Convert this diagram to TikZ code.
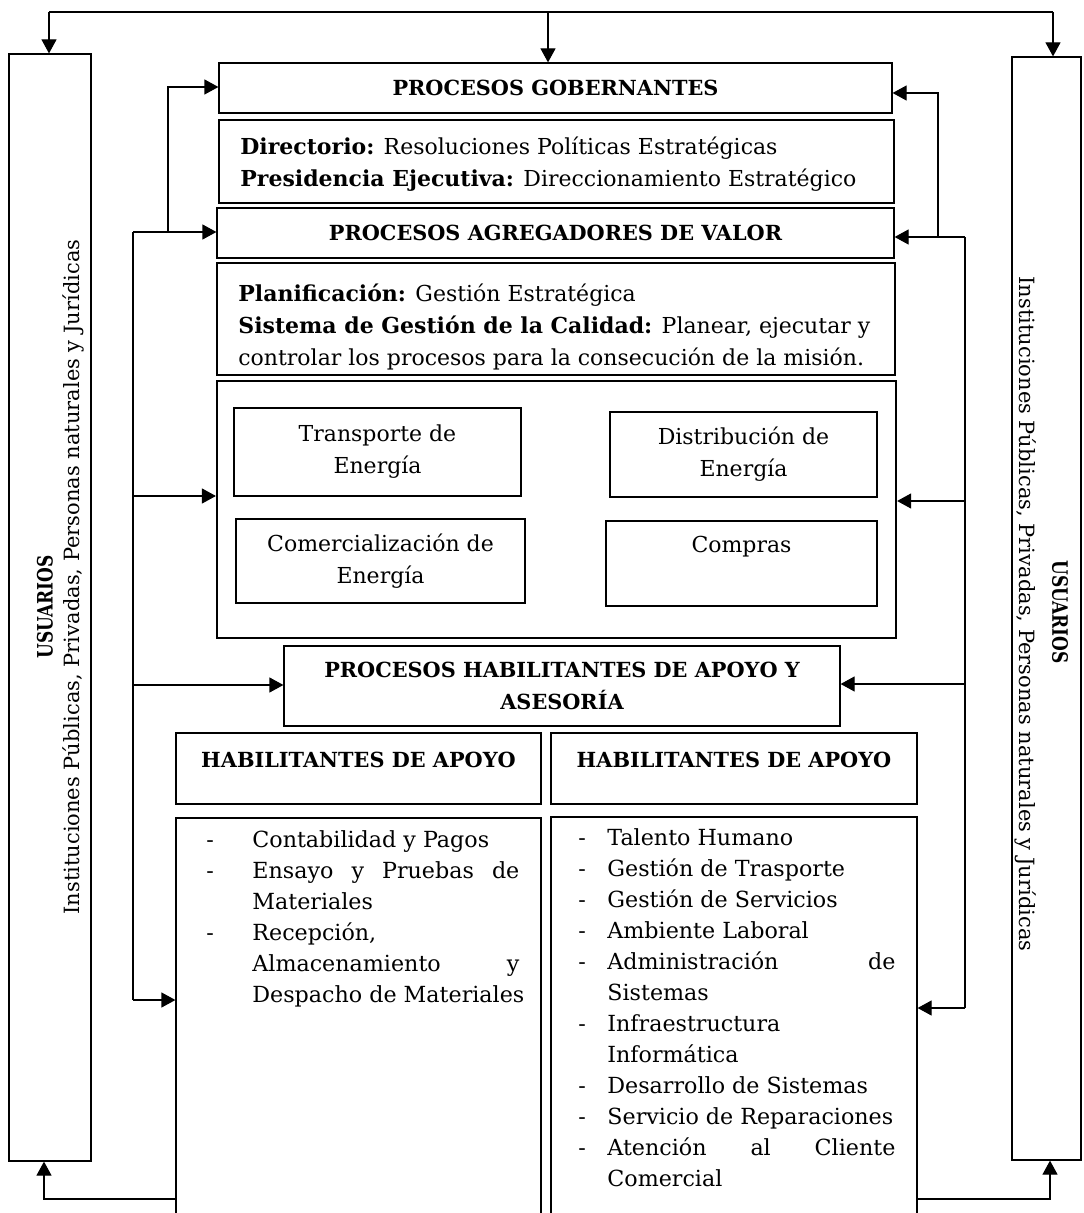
\documentclass[tikz,border=0pt]{standalone}
\usepackage{fontspec}
\usepackage{graphicx}
\setmainfont{DejaVu Serif}
\usetikzlibrary{arrows.meta,fit}
\newcommand{\fsz}{\fontsize{11}{16}\selectfont}
\newcommand{\fbz}{\fontsize{10.4}{16}\selectfont}
\newcommand{\flz}{\fontsize{11.1}{15.5}\selectfont}
\newcommand{\fsd}{\fontsize{10.5}{12}\selectfont}
\newcommand{\fud}{\fontsize{10.6}{12}\selectfont}
\begin{document}
\begin{tikzpicture}[x=0.5pt,y=-0.5pt,
  box/.style={draw, line width=0.6pt, inner sep=0pt},
  thickbox/.style={draw, line width=1.1pt, inner sep=0pt},
  txt/.style={inner sep=0pt, font=\fsz, align=center},
  ttl/.style={inner sep=0pt, font=\fbz\bfseries, align=center},
  side/.style={inner sep=0pt, font=\fsd},
  usr/.style={inner sep=0pt, font=\fud\bfseries},
  lst/.style={inner sep=0pt, font=\flz, anchor=north west},
  arr/.style={line width=0.6pt, -{Triangle[length=7pt,width=7.5pt]}},
  ln/.style={line width=0.6pt}]
\useasboundingbox (0,0) rectangle (1083,1213);
% side bars
\node[box, fit={(9,54) (91,1161)}] (barL) {};
\node[box, fit={(1012,57) (1081,1160)}] (barR) {};
\node[usr, rotate=90] (uL) at (45,607) {\scalebox{0.8}[1]{USUARIOS}};
\node[side, rotate=90] (iL) at (73,577) {Instituciones Públicas, Privadas, Personas naturales y Jurídicas};
\node[usr, rotate=-90] (uR) at (1060,612) {\scalebox{0.8}[1]{USUARIOS}};
\node[side, rotate=-90] (iR) at (1026,614) {Instituciones Públicas, Privadas, Personas naturales y Jurídicas};
% central column
\node[box, fit={(219,63) (892,113)}] (gob) {};
\node[ttl] (gobT) at (gob.center) {PROCESOS GOBERNANTES};
\node[box, fit={(219,120) (894,203)}] (dir) {};
\node[txt, anchor=west, align=left] (dirT) at (240,164) {\textbf{Directorio:} Resoluciones Políticas Estratégicas\\\textbf{Presidencia Ejecutiva:} Direccionamiento Estratégico};
\node[box, fit={(217,208) (894,258)}] (agr) {};
\node[ttl] (agrT) at (agr.center) {PROCESOS AGREGADORES DE VALOR};
\node[box, fit={(217,263) (895,375)}] (pla) {};
\node[txt, anchor=west, align=left] (plaT) at (238,327) {\textbf{Planificación:} Gestión Estratégica\\\textbf{Sistema de Gestión de la Calidad:} Planear, ejecutar y\\controlar los procesos para la consecución de la misión.};
\node[thickbox, fit={(217,381) (896,638)}] (cad) {};
\node[box, fit={(234,408) (521,496)}] (tra) {};
\node[txt] (traT) at (tra.center) {Transporte de\\Energía};
\node[box, fit={(610,412) (877,497)}] (dis) {};
\node[txt] (disT) at (dis.center) {Distribución de\\Energía};
\node[box, fit={(236,519) (525,603)}] (com) {};
\node[txt] (comT) at (com.center) {Comercialización de\\Energía};
\node[box, fit={(606,521) (877,606)}] (cpr) {};
\node[txt] (cprT) at (741.5,547) {Compras};
\node[box, fit={(284,646) (840,726)}] (hab) {};
\node[ttl] (habT) at (hab.center) {PROCESOS HABILITANTES DE APOYO Y\\ASESORÍA};
\node[box, fit={(176,733) (541,804)}] (ha1) {};
\node[ttl] (ha1T) at (358.5,760) {HABILITANTES DE APOYO};
\node[box, fit={(551,733) (917,804)}] (ha2) {};
\node[ttl] (ha2T) at (734,760) {HABILITANTES DE APOYO};
\node[box, fit={(176,818) (541,1240)}] (ls1) {};
\node[box, fit={(551,817) (917,1240)}] (ls2) {};
\node[lst] (ls1T) at (206,825) {\begin{tabular}{@{}p{23pt}@{}l@{}}
-&Contabilidad y Pagos\\
-&\makebox[133.5pt][s]{Ensayo y Pruebas de}\\
&Materiales\\
-&Recepción,\\
&\makebox[133.5pt][s]{Almacenamiento y}\\
&Despacho de Materiales
\end{tabular}};
\node[lst] (ls2T) at (578,823) {\begin{tabular}{@{}p{14.5pt}@{}l@{}}
-&Talento Humano\\
-&Gestión de Trasporte\\
-&Gestión de Servicios\\
-&Ambiente Laboral\\
-&\makebox[144pt][s]{Administración de}\\
&Sistemas\\
-&Infraestructura\\
&Informática\\
-&Desarrollo de Sistemas\\
-&Servicio de Reparaciones\\
-&\makebox[144pt][s]{Atención al Cliente}\\
&Comercial
\end{tabular}};
% top loop
\coordinate (tL) at (49,12);
\coordinate (tM) at (548,12);
\coordinate (tR) at (1053,12);
\draw[ln] (tL) -- (tR);
\draw[arr] (tL) -- (tL |- barL.north);
\draw[arr] (tM) -- (tM |- gob.north);
\draw[arr] (tR) -- (tR |- barR.north);
% bottom returns
\coordinate (bL1) at (176,1199);
\coordinate (bL2) at (44,1199);
\draw[arr] (bL1) -- (bL2) -- (bL2 |- barL.south);
\coordinate (bR1) at (917,1199);
\coordinate (bR2) at (1050,1199);
\draw[arr] (bR1) -- (bR2) -- (bR2 |- barR.south);
% left feedback
\coordinate (la) at (168,87);
\coordinate (lb) at (168,232);
\coordinate (lc) at (133,232);
\coordinate (ld) at (133,1000);
\coordinate (le) at (133,496);
\coordinate (lf) at (133,685);
\draw[ln] (lc) -- (ld);
\draw[arr] (lc) -- (lc -| agr.west);
\draw[arr] (lb) -- (la) -- (la -| gob.west);
\draw[arr] (le) -- (le -| cad.west);
\draw[arr] (lf) -- (lf -| hab.west);
\draw[arr] (ld) -- (ld -| ls1.west);
% right feedback
\coordinate (ra) at (938,93);
\coordinate (rb) at (938,237);
\coordinate (rc) at (965,237);
\coordinate (rd) at (965,1008);
\coordinate (re) at (965,501);
\coordinate (rf) at (965,684);
\draw[ln] (rc) -- (rd);
\draw[arr] (rc) -- (rc -| agr.east);
\draw[arr] (rb) -- (ra) -- (ra -| gob.east);
\draw[arr] (re) -- (re -| cad.east);
\draw[arr] (rf) -- (rf -| hab.east);
\draw[arr] (rd) -- (rd -| ls2.east);
\end{tikzpicture}
\end{document}
